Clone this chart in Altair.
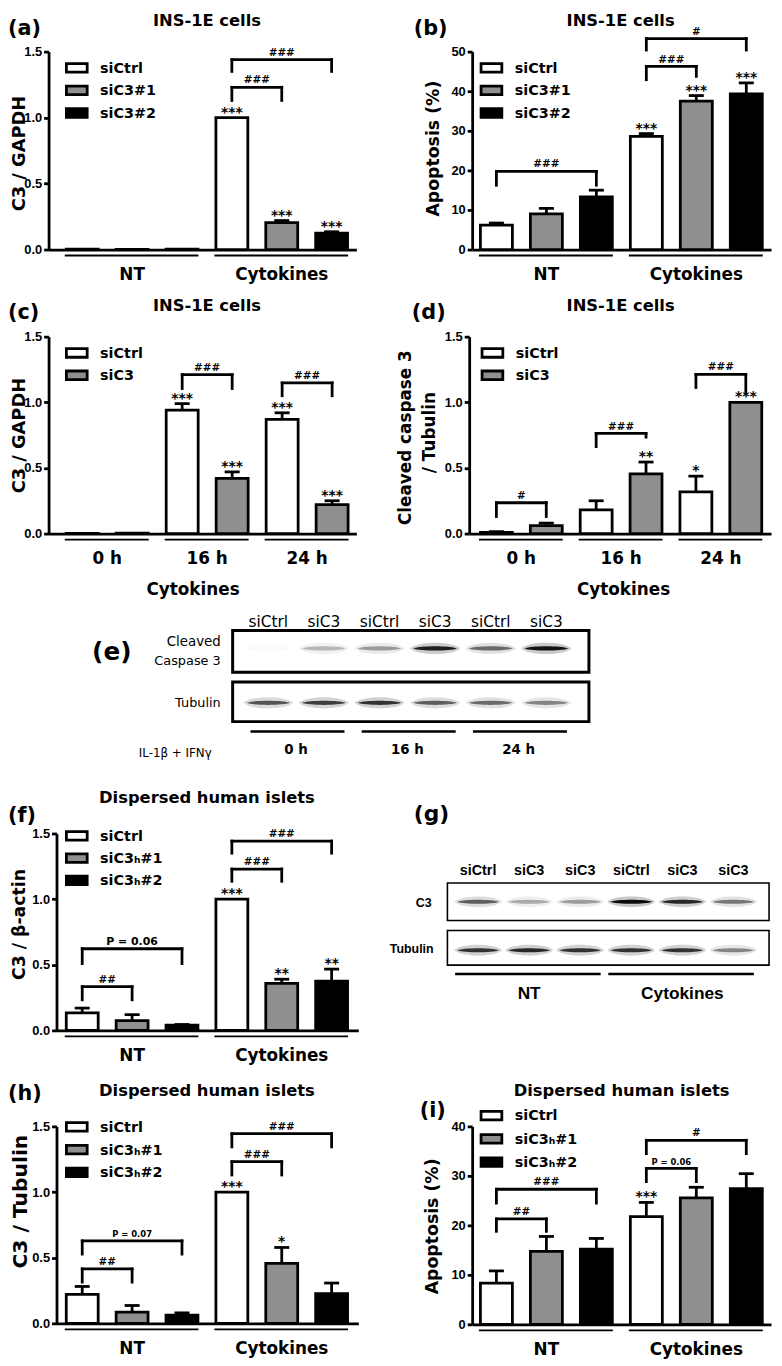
import altair as alt
import pandas as pd

W, H = 774, 1358
M = 8


def P(v):
    return v - M


FONT = "DejaVu Sans"
LIB = "Liberation Sans"
WHITE, GRAY, BLACK = "white", "#8f8f8f", "black"
LW = 2.8

# ---------------- data ----------------
# (a) INS-1E, C3 / GAPDH
a_groups = ["NT", "Cytokines"]
a_series = ["siCtrl", "siC3#1", "siC3#2"]
a_values = [0.003, 0.002, 0.003, 1.0, 0.205, 0.125]
a_sem = [0, 0, 0, 0, 0.015, 0.01]
a_stars = ["", "", "", "***", "***", "***"]
a_brackets = [(3, 4, 1.23, 1.13, 1.13, "###"), (3, 5, 1.44, 1.35, 1.35, "###")]

# (b) INS-1E, apoptosis
b_groups = ["NT", "Cytokines"]
b_series = ["siCtrl", "siC3#1", "siC3#2"]
b_values = [6.2, 9.0, 13.3, 28.6, 37.5, 39.3]
b_sem = [0.5, 1.4, 1.7, 0.7, 1.4, 2.8]
b_stars = ["", "", "", "***", "***", "***"]
b_brackets = [(0, 2, 19.75, 16.25, 16.25, "###"), (3, 4, 46.25, 42.9, 43.75, "###"),
              (3, 5, 53.3, 50.4, 50.4, "#")]

# (c) INS-1E, time course C3 / GAPDH
c_groups = ["0 h", "16 h", "24 h"]
c_series = ["siCtrl", "siC3"]
c_values = [0.001, 0.003, 0.94, 0.42, 0.87, 0.22]
c_sem = [0, 0, 0.05, 0.05, 0.05, 0.03]
c_stars = ["", "", "***", "***", "***", "***"]
c_brackets = [(2, 3, 1.21, 1.105, 1.105, "###"), (4, 5, 1.1475, 1.05, 1.05, "###")]

# (d) INS-1E, cleaved caspase 3 / tubulin
d_groups = ["0 h", "16 h", "24 h"]
d_series = ["siCtrl", "siC3"]
d_values = [0.01, 0.06, 0.18, 0.455, 0.3175, 1.0]
d_sem = [0.005, 0.02, 0.07, 0.09, 0.12, 0]
d_stars = ["", "", "", "**", "*", "***"]
d_brackets = [(0, 1, 0.235, 0.13, 0.13, "#"), (2, 3, 0.7625, 0.6625, 0.735, "###"),
              (4, 5, 1.2125, 1.1125, 1.07, "###")]

# (e) western blot, INS-1E
e_lanes = ["siCtrl", "siC3", "siCtrl", "siC3", "siCtrl", "siC3"]
e_cleaved = [0.02, 0.25, 0.35, 0.9, 0.55, 0.95]
e_tubulin = [0.65, 0.75, 0.8, 0.6, 0.55, 0.45]
e_times = ["0 h", "16 h", "24 h"]

# (f) human islets, C3 / beta-actin
f_groups = ["NT", "Cytokines"]
f_series = ["siCtrl", "siC3\u2095#1", "siC3\u2095#2"]
f_values = [0.133, 0.075, 0.04, 1.0, 0.359, 0.376]
f_sem = [0.037, 0.045, 0.005, 0, 0.031, 0.091]
f_stars = ["", "", "", "***", "**", "**"]
f_brackets = [(0, 1, 0.333, 0.233, 0.233, "##"), (0, 2, 0.622, 0.509, 0.509, "P = 0.06"),
              (3, 4, 1.229, 1.136, 1.136, "###"), (3, 5, 1.442, 1.35, 1.35, "###")]

# (g) western blot, human islets
g_lanes = ["siCtrl", "siC3", "siC3", "siCtrl", "siC3", "siC3"]
g_c3 = [0.6, 0.3, 0.35, 1.0, 0.85, 0.5]
g_tubulin = [0.8, 0.85, 0.8, 0.8, 0.8, 0.45]
g_groups = ["NT", "Cytokines"]

# (h) human islets, C3 / tubulin
h_groups = ["NT", "Cytokines"]
h_series = ["siCtrl", "siC3\u2095#1", "siC3\u2095#2"]
h_values = [0.221, 0.085, 0.063, 1.0, 0.457, 0.226]
h_sem = [0.06, 0.051, 0.017, 0, 0.121, 0.081]
h_stars = ["", "", "", "***", "*", ""]
h_brackets = [(0, 1, 0.4146, 0.314, 0.314, "##"), (0, 2, 0.628, 0.5276, 0.5276, "P = 0.07"),
              (3, 4, 1.231, 1.13, 1.13, "###"), (3, 5, 1.445, 1.344, 1.344, "###")]

# (i) human islets, apoptosis
i_groups = ["NT", "Cytokines"]
i_series = ["siCtrl", "siC3\u2095#1", "siC3\u2095#2"]
i_values = [8.35, 14.76, 15.2, 21.77, 25.58, 27.4]
i_sem = [2.45, 3.0, 2.16, 2.87, 2.12, 3.05]
i_stars = ["", "", "", "***", "", ""]
i_brackets = [(0, 1, 21.3, 18.8, 18.8, "##"), (0, 2, 27.3, 24.5, 24.5, "###"),
              (3, 4, 31.5, 28.85, 28.85, "P = 0.06"), (3, 5, 37.2, 34.5, 34.5, "#")]

# ---------------- helpers ----------------
ONE = pd.DataFrame({"k": [0]})
layers = []


def txt(s, x, y, size, weight="bold", align="center", angle=0, font=FONT, baseline="alphabetic"):
    layers.append(
        alt.Chart(ONE).mark_text(text=s, font=font, fontSize=size, fontWeight=weight, align=align,
                                 baseline=baseline, angle=angle, color="black")
        .encode(x=alt.value(P(x)), y=alt.value(P(y)))
    )


def box(x1, y1, x2, y2, sw):
    layers.append(
        alt.Chart(ONE).mark_rect(fill="white", stroke="black", strokeWidth=sw)
        .encode(x=alt.value(P(x1)), x2=alt.value(P(x2)), y=alt.value(P(y1)), y2=alt.value(P(y2)))
    )


def bar_panel(groups, series, values, sems, stars, brackets, ax_x, ax_end, slot0, step,
              y0, ytop, ydom, ticks, fmt, leg_x, leg_c0, leg_sp, p_size=10, hw=0.32):
    ns = len(series)
    n = len(values)
    colors = [WHITE, GRAY, BLACK][:ns]
    df = pd.DataFrame({
        "slot": list(range(n)),
        "group": [groups[i // ns] for i in range(n)],
        "series": [series[i % ns] for i in range(n)],
        "val": values, "sem": sems, "star": stars,
    })
    xs = alt.Scale(domain=[(ax_x - slot0) / step, (ax_end - slot0) / step],
                   range=[P(ax_x), P(ax_end)], nice=False, zero=False)
    ys = alt.Scale(domain=ydom, range=[P(y0), P(ytop)], nice=False, zero=False)
    fs = alt.Scale(domain=series, range=colors)
    yaxis = alt.Axis(orient="left", offset=-P(ax_x), values=ticks, format=fmt, title=None, grid=False,
                     domainColor="black", domainWidth=LW, tickColor="black", tickWidth=LW, tickSize=5,
                     labelFont=LIB, labelFontWeight="bold", labelFontSize=13, labelColor="black",
                     labelPadding=2)
    xaxis = alt.Axis(orient="bottom", offset=P(y0) - H, ticks=False, labels=False, title=None, grid=False,
                     domainColor="black", domainWidth=LW)
    base = alt.Chart(df)
    # bars
    layers.append(
        base.transform_calculate(xl=f"datum.slot-{hw}", xr=f"datum.slot+{hw}")
        .mark_bar(stroke="black", strokeWidth=LW)
        .encode(x=alt.X("xl:Q", scale=xs, axis=xaxis), x2=alt.X2("xr"),
                y=alt.Y("val:Q", scale=ys, axis=yaxis), y2=alt.datum(0),
                fill=alt.Fill("series:N", scale=fs, legend=None))
    )
    # error bars
    err = base.transform_filter("datum.sem > 0").transform_calculate(
        top="datum.val+datum.sem", cl="datum.slot-0.15", cr="datum.slot+0.15")
    layers.append(
        err.mark_rule(color="black", strokeWidth=LW)
        .encode(x=alt.X("slot:Q", scale=xs, axis=None), y=alt.Y("val:Q", scale=ys, axis=None),
                y2=alt.Y2("top"))
    )
    layers.append(
        err.mark_rule(color="black", strokeWidth=LW)
        .encode(x=alt.X("cl:Q", scale=xs, axis=None), x2=alt.X2("cr"),
                y=alt.Y("top:Q", scale=ys, axis=None))
    )
    # stars
    layers.append(
        base.transform_filter("datum.star != ''").transform_calculate(top="datum.val+datum.sem")
        .mark_text(font=FONT, fontWeight="bold", fontSize=14, baseline="alphabetic", dy=-1, color="black")
        .encode(x=alt.X("slot:Q", scale=xs, axis=None), y=alt.Y("top:Q", scale=ys, axis=None),
                text=alt.Text("star:N"))
    )
    # brackets
    bdf = pd.DataFrame(brackets, columns=["a", "b", "yb", "yl", "yr", "label"])
    bb = alt.Chart(bdf)
    layers.append(
        bb.mark_rule(color="black", strokeWidth=LW, strokeCap="square")
        .encode(x=alt.X("a:Q", scale=xs, axis=None), x2=alt.X2("b"), y=alt.Y("yb:Q", scale=ys, axis=None))
    )
    layers.append(
        bb.mark_rule(color="black", strokeWidth=LW, strokeCap="square")
        .encode(x=alt.X("a:Q", scale=xs, axis=None), y=alt.Y("yb:Q", scale=ys, axis=None), y2=alt.Y2("yl"))
    )
    layers.append(
        bb.mark_rule(color="black", strokeWidth=LW, strokeCap="square")
        .encode(x=alt.X("b:Q", scale=xs, axis=None), y=alt.Y("yb:Q", scale=ys, axis=None), y2=alt.Y2("yr"))
    )
    layers.append(
        bb.transform_calculate(mid="(datum.a+datum.b)/2")
        .mark_text(font=FONT, fontWeight="bold", baseline="alphabetic", dy=-4, color="black")
        .encode(x=alt.X("mid:Q", scale=xs, axis=None), y=alt.Y("yb:Q", scale=ys, axis=None),
                text=alt.Text("label:N"),
                size=alt.condition("indexof(datum.label, 'P') == 0", alt.value(p_size), alt.value(10.5)))
    )
    # group underlines and labels
    gdf = pd.DataFrame({"group": groups,
                        "first": [k * ns for k in range(len(groups))],
                        "last": [k * ns + ns - 1 for k in range(len(groups))]})
    gg = alt.Chart(gdf).transform_calculate(
        l=f"datum.first-{hw + 0.03}", r=f"datum.last+{hw + 0.01}", mid="(datum.first+datum.last)/2")
    layers.append(
        gg.mark_rule(color="black", strokeWidth=1.8)
        .encode(x=alt.X("l:Q", scale=xs, axis=None), x2=alt.X2("r"), y=alt.value(P(y0 + 6)))
    )
    layers.append(
        gg.mark_text(font=FONT, fontWeight="bold", fontSize=17, baseline="alphabetic", color="black")
        .encode(x=alt.X("mid:Q", scale=xs, axis=None), y=alt.value(P(y0 + 30.5)), text=alt.Text("group:N"))
    )
    # legend
    ldf = pd.DataFrame({"series": series, "i": list(range(ns))})
    lys = alt.Scale(domain=[0, 1], range=[P(leg_c0), P(leg_c0 + leg_sp)], nice=False, zero=False)
    hh = 4.3 / leg_sp
    ll = alt.Chart(ldf)
    layers.append(
        ll.transform_calculate(t=f"datum.i-{hh}", b=f"datum.i+{hh}")
        .mark_rect(stroke="black", strokeWidth=LW)
        .encode(x=alt.value(P(leg_x + 1)), x2=alt.value(P(leg_x + 22)),
                y=alt.Y("t:Q", scale=lys, axis=None), y2=alt.Y2("b"),
                fill=alt.Fill("series:N", scale=fs, legend=None))
    )
    layers.append(
        ll.mark_text(font=FONT, fontWeight="bold", fontSize=14.5, align="left", baseline="alphabetic",
                     dy=5, color="black")
        .encode(x=alt.value(P(leg_x + 35)), y=alt.Y("i:Q", scale=lys, axis=None), text=alt.Text("series:N"))
    )


ELL = "M -1 0 C -0.7 -0.13 0.7 -0.13 1 0 C 0.7 0.13 -0.7 0.13 -1 0 Z"
ELL2 = "M -1 0 C -0.7 -0.3 0.7 -0.3 1 0 C 0.7 0.3 -0.7 0.3 -1 0 Z"


def blot(lanes, rows, lx0, lx1, ry0, ry1, band_w, lab_y, lab_font, lab_size, lab_weight,
         groups, group_lanes, ul_y, ul_l, ul_r, gl_y, gl_font, gl_size, gl_weight):
    bands = []
    for r, vals in enumerate(rows):
        for k, v in enumerate(vals):
            bands.append({"lane": k, "row": r, "inten": v})
    bdf = pd.DataFrame(bands)
    xs = alt.Scale(domain=[0, len(lanes) - 1], range=[P(lx0), P(lx1)], nice=False, zero=False)
    ys = alt.Scale(domain=[0, 1], range=[P(ry0), P(ry1)], nice=False, zero=False)
    bc = alt.Chart(bdf)
    layers.append(
        bc.mark_point(shape=ELL2, filled=True, color="black", size=(band_w * 1.15) ** 2, strokeWidth=0)
        .encode(x=alt.X("lane:Q", scale=xs, axis=None), y=alt.Y("row:Q", scale=ys, axis=None),
                opacity=alt.Opacity("inten:Q", scale=alt.Scale(domain=[0, 1], range=[0, 0.22]), legend=None))
    )
    layers.append(
        bc.mark_point(shape=ELL, filled=True, color="black", size=band_w ** 2, strokeWidth=0)
        .encode(x=alt.X("lane:Q", scale=xs, axis=None), y=alt.Y("row:Q", scale=ys, axis=None),
                opacity=alt.Opacity("inten:Q", scale=alt.Scale(domain=[0, 1], range=[0, 0.95]), legend=None))
    )
    ldf = pd.DataFrame({"lane": list(range(len(lanes))), "label": lanes})
    layers.append(
        alt.Chart(ldf).mark_text(font=lab_font, fontSize=lab_size, fontWeight=lab_weight,
                                 baseline="alphabetic", color="black")
        .encode(x=alt.X("lane:Q", scale=xs, axis=None), y=alt.value(P(lab_y)), text=alt.Text("label:N"))
    )
    gdf = pd.DataFrame({"group": groups, "first": [g[0] for g in group_lanes],
                        "last": [g[1] for g in group_lanes]})
    gg = alt.Chart(gdf).transform_calculate(
        l=f"datum.first-{ul_l}", r=f"datum.last+{ul_r}", mid="(datum.first+datum.last)/2")
    layers.append(
        gg.mark_rule(color="black", strokeWidth=2.5)
        .encode(x=alt.X("l:Q", scale=xs, axis=None), x2=alt.X2("r"), y=alt.value(P(ul_y)))
    )
    layers.append(
        gg.mark_text(font=gl_font, fontSize=gl_size, fontWeight=gl_weight, baseline="alphabetic", color="black")
        .encode(x=alt.X("mid:Q", scale=xs, axis=None), y=alt.value(P(gl_y)), text=alt.Text("group:N"))
    )


# ---------------- panel (a) ----------------
txt("(a)", 8, 28, 21, align="left")
txt("INS-1E cells", 209, 19, 16.5)
txt("C3 / GAPDH", 25, 148, 18, angle=270)
bar_panel(a_groups, a_series, a_values, a_sem, a_stars, a_brackets, 49, 360, 83, 50.4,
          245, 45, [0, 1.5], [0, 0.5, 1.0, 1.5], ".1f", 66, 61.5, 22.75)

# ---------------- panel (b) ----------------
txt("(b)", 418, 28, 21, align="left")
txt("INS-1E cells", 627, 19, 16.5)
txt("Apoptosis (%)", 438, 143, 17.5, angle=270, baseline="middle")
bar_panel(b_groups, b_series, b_values, b_sem, b_stars, b_brackets, 477, 779, 501.5, 50.5,
          245, 45, [0, 50], [0, 10, 20, 30, 40, 50], "d", 485, 61.5, 22.75)

# ---------------- panel (c) ----------------
txt("(c)", 8, 315, 21, align="left")
txt("INS-1E cells", 209, 307, 16.5)
txt("C3 / GAPDH", 25, 433, 18, angle=270)
bar_panel(c_groups, c_series, c_values, c_sem, c_stars, c_brackets, 49, 360, 83, 50.5,
          532, 333, [0, 1.5], [0, 0.5, 1.0, 1.5], ".1f", 66, 349.5, 22.5)
txt("Cytokines", 195, 594, 17)

# ---------------- panel (d) ----------------
txt("(d)", 416, 315, 21, align="left")
txt("INS-1E cells", 627, 307, 16.5)
txt("Cleaved caspase 3", 410, 435, 17, angle=270, baseline="middle")
txt("/ Tubulin", 434, 430, 17, angle=270, baseline="middle")
bar_panel(d_groups, d_series, d_values, d_sem, d_stars, d_brackets, 474, 779, 501.5, 50.4,
          532, 333, [0, 1.5], [0, 0.5, 1.0, 1.5], ".1f", 486, 349.5, 22.5)
txt("Cytokines", 630, 594, 17)

# ---------------- panel (e) ----------------
txt("(e)", 93, 660, 25, align="left")
box(235, 630, 595, 672, 3)
box(235, 682, 595, 722, 3)
txt("Cleaved", 223, 646, 13.5, weight="normal", align="right")
txt("Caspase 3", 223, 665, 13, weight="normal", align="right")
txt("Tubulin", 223, 707, 13, weight="normal", align="right")
txt("IL-1\u03b2 + IFN\u03b3", 177, 758, 12, weight="normal")
blot(e_lanes, [e_cleaved, e_tubulin], 271, 552, 648, 703, 44, 626, FONT, 15.5, "normal",
     e_times, [(0, 1), (2, 3), (4, 5)], 732, 0.32, 0.37, 755, FONT, 13.5, "bold")

# ---------------- panel (f) ----------------
txt("(f)", 8, 823, 21, align="left")
txt("Dispersed human islets", 209, 804, 16.5)
txt("C3 / \u03b2-actin", 25, 927, 17.5, angle=270)
bar_panel(f_groups, f_series, f_values, f_sem, f_stars, f_brackets, 57, 362, 83, 50.4,
          1034, 835, [0, 1.5], [0, 0.5, 1.0, 1.5], ".1f", 66, 837.5, 22.5, p_size=11)

# ---------------- panel (g) ----------------
txt("(g)", 418, 822, 22, align="left")
box(452, 885, 777, 923, 1.6)
box(452, 933, 777, 968, 1.6)
txt("C3", 436, 909, 12.5, font=LIB, align="right")
txt("Tubulin", 438, 956, 12.5, font=LIB, align="right")
blot(g_lanes, [g_c3, g_tubulin], 483, 741, 904, 953, 42, 877, LIB, 14.5, "bold",
     g_groups, [(0, 2), (3, 5)], 977, 0.45, 0.4, 1002, LIB, 17.5, "bold")

# ---------------- panel (h) ----------------
txt("(h)", 8, 1104, 21, align="left")
txt("Dispersed human islets", 209, 1100, 16.5)
txt("C3 / Tubulin", 27.5, 1207, 20.5, angle=270)
bar_panel(h_groups, h_series, h_values, h_sem, h_stars, h_brackets, 57, 362, 83, 50.4,
          1330, 1131, [0, 1.5], [0, 0.5, 1.0, 1.5], ".1f", 66, 1131.5, 23, p_size=8.5)

# ---------------- panel (i) ----------------
txt("(i)", 424, 1121, 21, align="left")
txt("Dispersed human islets", 628, 1100, 16.5)
txt("Apoptosis (%)", 437, 1232, 17.5, angle=270, baseline="middle")
bar_panel(i_groups, i_series, i_values, i_sem, i_stars, i_brackets, 477, 779, 501.5, 50.5,
          1331, 1131, [0, 40], [0, 10, 20, 30, 40], "d", 485, 1120, 23.5, p_size=8.5)

chart = (
    alt.layer(*layers)
    .properties(width=W, height=H, padding=0, autosize=alt.AutoSizeParams(type="none"),
                background="white")
    .resolve_scale(x="independent", y="independent", fill="independent",
                   opacity="independent", size="independent")
    .configure_view(stroke=None)
)

chart.save("out.html", embed_options={"renderer": "svg", "actions": False})
